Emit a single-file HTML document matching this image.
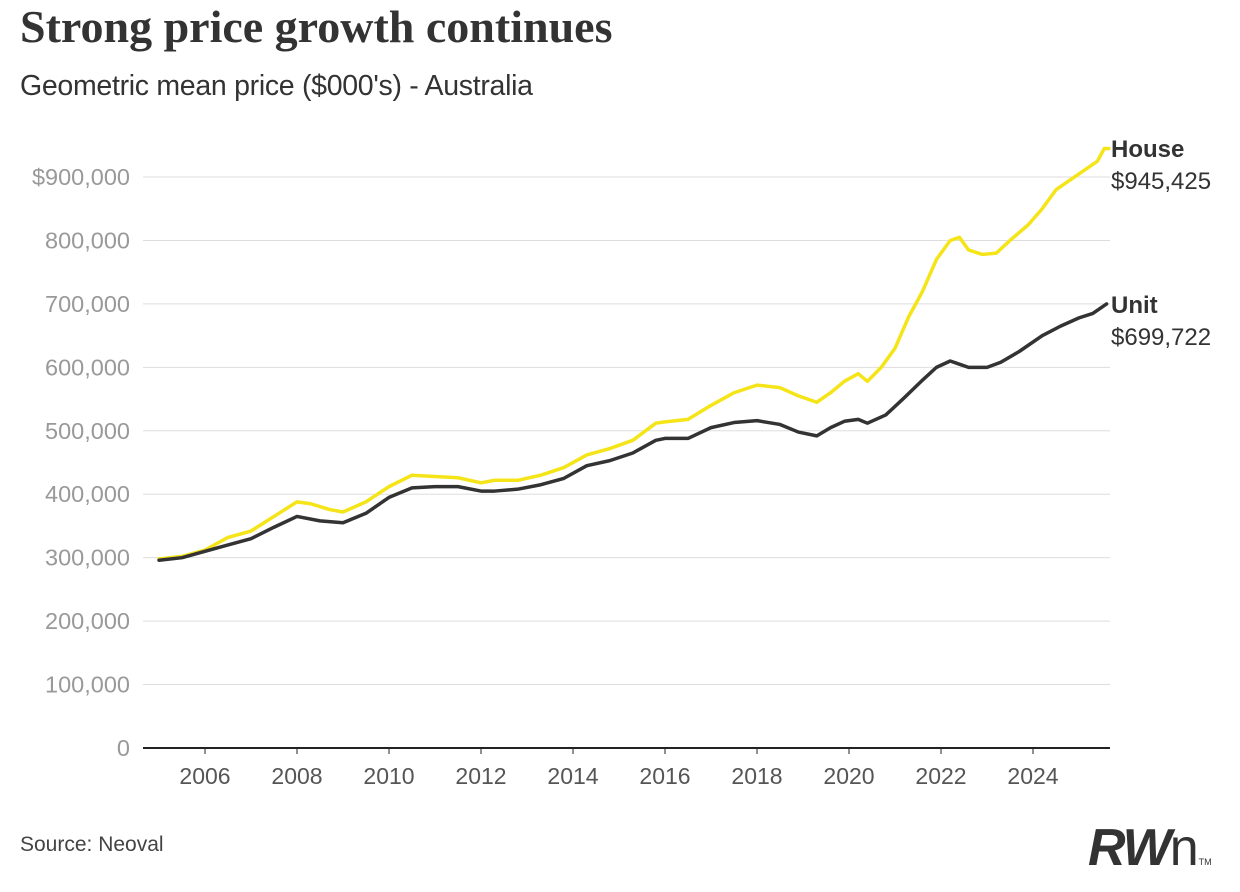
<!DOCTYPE html>
<html><head><meta charset="utf-8"><style>
body{margin:0;width:1240px;height:892px;background:#fff;overflow:hidden;font-family:"Liberation Sans",sans-serif}
#title{position:absolute;left:20px;top:0px;font:bold 46px "Liberation Serif",serif;color:#333;letter-spacing:0px}
#sub{position:absolute;left:20px;top:70px;font-size:28.5px;color:#333;letter-spacing:-0.3px}
#src{position:absolute;left:20px;top:833px;font-size:21px;color:#444}
#logo{position:absolute;left:1088px;top:818px;font:italic bold 52px "Liberation Sans",sans-serif;color:#333;letter-spacing:-2px}
svg{position:absolute;left:0;top:0}
</style></head><body>
<div id="title">Strong price growth continues</div>
<div id="sub">Geometric mean price ($000's) - Australia</div>
<div id="src">Source: Neoval</div>
<div id="logo">RW<span style="font-weight:normal;font-style:normal;letter-spacing:0">n</span><span style="font-size:9px;font-style:normal;font-weight:normal;letter-spacing:0">TM</span></div>
<svg id="chart" width="1240" height="892"></svg>
<script>
const yTicks=[0,100,200,300,400,500,600,700,800,900];
const yTickLabels=["0","100,000","200,000","300,000","400,000","500,000","600,000","700,000","800,000","$900,000"];
const xTicks=[2006,2008,2010,2012,2014,2016,2018,2020,2022,2024];
const houseT=[2005.0,2005.5,2006.0,2006.5,2007.0,2007.5,2008.0,2008.3,2008.7,2009.0,2009.5,2010.0,2010.5,2011.0,2011.5,2012.0,2012.3,2012.8,2013.3,2013.8,2014.3,2014.8,2015.3,2015.8,2016.0,2016.5,2017.0,2017.5,2018.0,2018.5,2018.9,2019.3,2019.6,2019.9,2020.2,2020.4,2020.7,2021.0,2021.3,2021.6,2021.9,2022.2,2022.4,2022.6,2022.9,2023.2,2023.5,2023.9,2024.2,2024.5,2024.9,2025.2,2025.4,2025.55,2025.65];
const houseV=[298,302,312,332,342,365,388,385,376,372,388,412,430,428,426,418,422,422,430,442,462,472,485,512,514,518,540,560,572,568,555,545,560,578,590,578,600,630,680,720,770,800,805,785,778,780,800,825,850,880,900,915,925,945,945];
const unitT=[2005.0,2005.5,2006.0,2006.5,2007.0,2007.5,2008.0,2008.5,2009.0,2009.5,2010.0,2010.5,2011.0,2011.5,2012.0,2012.3,2012.8,2013.3,2013.8,2014.3,2014.8,2015.3,2015.8,2016.0,2016.5,2017.0,2017.5,2018.0,2018.5,2018.9,2019.3,2019.6,2019.9,2020.2,2020.4,2020.8,2021.2,2021.6,2021.9,2022.2,2022.4,2022.6,2023.0,2023.3,2023.7,2024.2,2024.6,2025.0,2025.3,2025.6];
const unitV=[296,300,310,320,330,348,365,358,355,370,395,410,412,412,405,405,408,415,425,445,453,465,485,488,488,505,513,516,510,498,492,505,515,518,512,525,552,580,600,610,605,600,600,608,625,650,665,678,685,700];
const NS="http://www.w3.org/2000/svg";
const svg=document.getElementById('chart');
const X=t=>205+(t-2006)*46;
const Y=v=>748-v*0.6344;
function el(tag,attrs,txt){const e=document.createElementNS(NS,tag);for(const k in attrs)e.setAttribute(k,attrs[k]);if(txt!==undefined)e.textContent=txt;svg.appendChild(e);return e;}
yTicks.forEach((v,i)=>{
 if(v>0){const g=el('line',{x1:143,x2:1110,y1:Y(v),y2:Y(v),stroke:'#ddd','stroke-width':1});
 
 }
 const t=el('text',{x:130,y:Y(v)+8,'text-anchor':'end','font-size':23.5,fill:'#999','font-family':'Liberation Sans, sans-serif'},yTickLabels[i]);
 
 
});
const ax=el('line',{x1:143,x2:1110,y1:748,y2:748,stroke:'#222','stroke-width':2});


xTicks.forEach(t=>{
 const k=el('line',{x1:X(t),x2:X(t),y1:748,y2:754,stroke:'#222','stroke-width':1});
 
 
 const l=el('text',{x:X(t),y:784,'text-anchor':'middle','font-size':23,fill:'#555','font-family':'Liberation Sans, sans-serif'},String(t));
 
 
});
function line(ts,vs,color){return el('polyline',{points:ts.map((t,i)=>X(t)+','+Y(vs[i])).join(' '),fill:'none',stroke:color,'stroke-width':3.5,'stroke-linejoin':'round','stroke-linecap':'round'});}
const h=line(houseT,houseV,'#f5e418');


const u=line(unitT,unitV,'#333');


const labs=[['House',157,'bold','house-label'],['$945,425',189,'normal','house-value'],['Unit',313,'bold','unit-label'],['$699,722',345,'normal','unit-value']];
labs.forEach(a=>{const t=el('text',{x:1111,y:a[1],'font-size':24,'font-weight':a[2],fill:'#333','font-family':'Liberation Sans, sans-serif'},a[0]);
 
 });
</script>
</body></html>
